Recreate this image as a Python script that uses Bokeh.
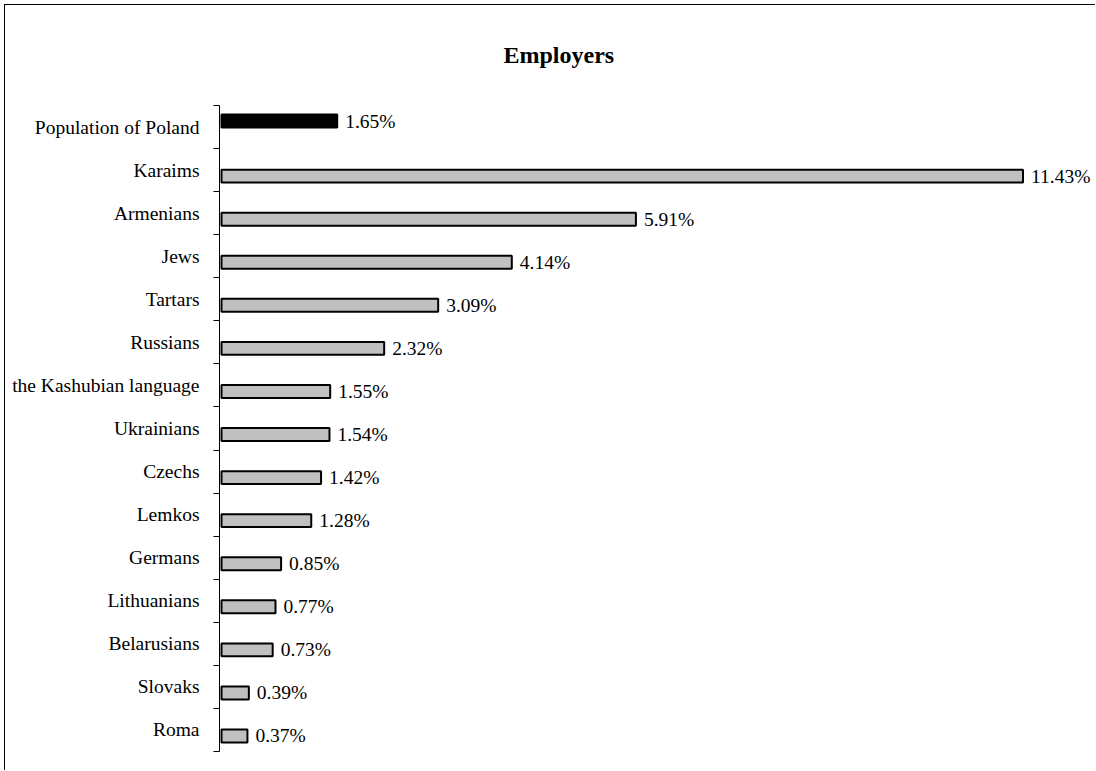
from bokeh.plotting import figure
from bokeh.models import ColumnDataSource, FixedTicker, Range1d
from bokeh.core.properties import value
from bokeh.embed import file_html
from bokeh.resources import INLINE

categories = ["Population of Poland", "Karaims", "Armenians", "Jews", "Tartars", "Russians",
              "the Kashubian language", "Ukrainians", "Czechs", "Lemkos", "Germans",
              "Lithuanians", "Belarusians", "Slovaks", "Roma"]
values = [1.65, 11.43, 5.91, 4.14, 3.09, 2.32, 1.55, 1.54, 1.42, 1.28, 0.85, 0.77, 0.73, 0.39, 0.37]
series = ["Population of Poland"] + ["Group"] * 14
series_colors = {"Population of Poland": "#000000", "Group": "#c0c0c0"}
series_offset = {"Population of Poland": -0.14, "Group": 0.14}
title_text = "Employers"

n = len(categories)
centers = [i + 0.5 for i in range(n)]
ys = [c + series_offset[s] for c, s in zip(centers, series)]
src = ColumnDataSource(dict(
    y=ys, v=values, color=[series_colors[s] for s in series],
    label=[f"{v:.2f}%" for v in values],
))

FONT = "Liberation Serif"

p = figure(width=1091, height=766, output_backend="svg", toolbar_location=None,
           x_range=Range1d(-0.0285, 12.45), y_range=Range1d(n, 0),
           x_axis_location=None, min_border_left=214, min_border_right=2,
           min_border_top=100, min_border_bottom=20)
p.outline_line_color = None
p.xgrid.visible = False
p.ygrid.visible = False
p.background_fill_color = "white"
p.border_fill_color = "white"
p.styles = {"border-left": "1px solid black", "border-top": "1px solid black",
            "margin-left": "4px", "margin-top": "4px"}

p.title.text = title_text
p.title.align = "left"
p.title.offset = 284
p.title.vertical_align = "top"
p.title.text_font = FONT
p.title.text_font_size = "24px"
p.title.text_font_style = "bold"
p.title.text_color = "black"
p.title.standoff = 71

p.hbar(y="y", right="v", left=0, height=0.30, source=src,
       fill_color="color", line_color="black", line_width=2)
p.text(x="v", y="y", text="label", source=src, x_offset=8,
       text_font=value(FONT), text_font_size="19.5px", text_baseline="middle",
       text_align="left", text_color="black")

ax = p.yaxis[0]
ax.ticker = FixedTicker(ticks=centers, minor_ticks=list(range(n + 1)))
ax.major_label_overrides = {c: cat for c, cat in zip(centers, categories)}
ax.major_tick_line_color = None
ax.major_tick_out = 0
ax.major_tick_in = 0
ax.minor_tick_line_color = "black"
ax.minor_tick_out = 6
ax.minor_tick_in = 0
ax.axis_line_color = "black"
ax.major_label_standoff = 14
ax.major_label_text_font = FONT
ax.major_label_text_font_size = "19.5px"
ax.major_label_text_color = "black"

open("out.html", "w").write(file_html(p, INLINE))
